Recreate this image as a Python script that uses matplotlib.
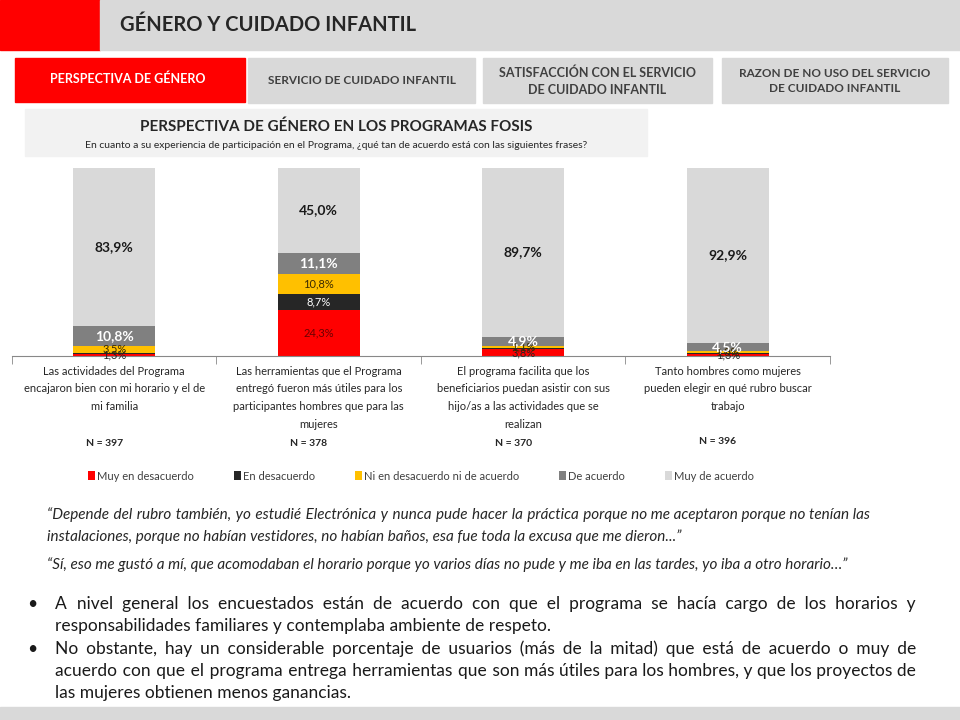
import matplotlib
matplotlib.use('Agg')
import matplotlib.pyplot as plt
from matplotlib.patches import Rectangle
import numpy as np

plt.rcParams['font.family'] = ['Lato', 'DejaVu Sans']

# Datos
categorias = [
    "Las actividades del Programa\nencajaron bien con mi horario y el de\nmi familia",
    "Las herramientas que el Programa\nentregó fueron más útiles para los\nparticipantes hombres que para las\nmujeres",
    "El programa facilita que los\nbeneficiarios puedan asistir con sus\nhijo/as a las actividades que se\nrealizan",
    "Tanto hombres como mujeres\npueden elegir en qué rubro buscar\ntrabajo",
]
n_muestra = ["N = 397", "N = 378", "N = 370", "N = 396"]
series = ["Muy en desacuerdo", "En desacuerdo", "Ni en desacuerdo ni de acuerdo",
          "De acuerdo", "Muy de acuerdo"]
muy_desacuerdo = [1.3, 24.3, 3.8, 1.3]
desacuerdo = [0.5, 8.7, 0.5, 0.3]
ni_ni = [3.5, 10.8, 1.1, 1.0]
de_acuerdo = [10.8, 11.1, 4.9, 4.5]
muy_acuerdo = [83.9, 45.0, 89.7, 92.9]
valores = [muy_desacuerdo, desacuerdo, ni_ni, de_acuerdo, muy_acuerdo]
colores = ['#FF0000', '#262626', '#FFC000', '#808080', '#D9D9D9']

fig = plt.figure(figsize=(9.6, 7.2), dpi=100)
bg = fig.add_axes([0, 0, 1, 1])
bg.set_xlim(0, 960)
bg.set_ylim(720, 0)
bg.axis('off')

# ===== Encabezado =====
bg.add_patch(Rectangle((0, 0), 100, 50, color='#FF0000'))
bg.add_patch(Rectangle((100, 0), 860, 50, color='#D9D9D9'))
bg.text(120, 25, "GÉNERO Y CUIDADO INFANTIL", fontsize=14.5, fontweight='bold',
        color='#262626', va='center', ha='left')

# Pestañas
bg.add_patch(Rectangle((15, 58), 230, 44, color='#FF0000'))
bg.text(128, 79, "PERSPECTIVA DE GÉNERO", fontsize=9, fontweight='bold',
        color='white', ha='center', va='center')
tabs = [(248, 475, "SERVICIO DE CUIDADO INFANTIL", 8.5),
        (483, 712, "SATISFACCIÓN CON EL SERVICIO\nDE CUIDADO INFANTIL", 9),
        (722, 948, "RAZON DE NO USO DEL SERVICIO\nDE CUIDADO INFANTIL", 8.5)]
for x0, x1, txt, fs in tabs:
    bg.add_patch(Rectangle((x0, 58), x1 - x0, 45, color='#D9D9D9'))
    bg.text((x0 + x1) / 2, 81, txt, fontsize=fs, fontweight='bold', color='#404040',
            ha='center', va='center', linespacing=1.5)

# Caja de título del gráfico
bg.add_patch(Rectangle((25, 109), 622, 47, color='#F2F2F2'))
bg.text(336, 127, "PERSPECTIVA DE GÉNERO EN LOS PROGRAMAS FOSIS", fontsize=11,
        fontweight='bold', color='#262626', ha='center', va='center')
bg.text(336, 146, "En cuanto a su experiencia de participación en el Programa, "
        "¿qué tan de acuerdo está con las siguientes frases?", fontsize=7.5,
        color='#262626', ha='center', va='center')

# ===== Gráfico de barras apiladas =====
ax = fig.add_axes([12 / 960, 1 - 356 / 720, 818 / 960, 188 / 720])
x = np.arange(len(categorias))
base = np.zeros(len(categorias))
barras = []
for nombre, vals, col in zip(series, valores, colores):
    b = ax.bar(x, vals, 0.4, bottom=base, color=col, label=nombre)
    barras.append(b)
    base = base + np.array(vals)

ax.set_xlim(-0.5, 3.5)
ax.set_ylim(0, 100)
for s in ['top', 'right', 'left']:
    ax.spines[s].set_visible(False)
ax.spines['bottom'].set_color('#888888')
ax.set_yticks([])
ax.set_xticks(x)
ax.set_xticklabels(categorias, fontsize=8, color='#262626', linespacing=1.75)
ax.tick_params(axis='x', which='major', length=0, pad=7)
ax.set_xticks(np.arange(-0.5, 4.0, 1.0), minor=True)
ax.tick_params(axis='x', which='minor', length=6, color='#888888', direction='out')

# Etiquetas de datos (se solapan en los segmentos pequeños, como en el original)
estilos = [
    dict(color='#262626', fontsize=8),
    dict(color='white', fontsize=8),
    dict(color='#3A2A00', fontsize=8),
    dict(color='white', fontsize=10, fontweight='bold'),
    dict(color='#1A1A1A', fontsize=10, fontweight='bold'),
]
base = np.zeros(len(categorias))
for vals, est in zip(valores, estilos):
    for i, v in enumerate(vals):
        if v >= 1.0:
            txt = f"{v:.1f}%".replace('.', ',')
            c = est['color']
            if est is estilos[0] and v > 10:
                c = '#6B0000'
            ax.text(i, base[i] + v / 2, txt, ha='center', va='center',
                    **{**est, 'color': c})
    base = base + np.array(vals)

for i, n in enumerate(n_muestra):
    bg.text(12 + 204.5 * (i + 0.5) - 10, 444 if i < 3 else 441, n, fontsize=7.5,
            fontweight='bold', color='#262626', ha='center', va='center')

ax.legend(handles=barras, loc='center', bbox_to_anchor=(421 / 960, 1 - 476 / 720),
          bbox_transform=fig.transFigure, ncol=5, frameon=False, fontsize=8,
          handlelength=0.6, handleheight=0.9, handletextpad=0.2, columnspacing=3.6,
          labelcolor='#404040')

# ===== Textos justificados =====
renderer = fig.canvas.get_renderer()
HAIR = '\u200a'


def ancho(txt, **kw):
    t = bg.text(0, 0, txt, **kw)
    w = t.get_window_extent(renderer).width
    t.remove()
    return w


def justificar(x0, x1, y, linea, **kw):
    # una sola línea de texto; se rellenan los espacios con espacios finos
    palabras = linea.split()
    huecos = len(palabras) - 1
    w_hair = (ancho('a' + HAIR * 20 + 'a', **kw) - ancho('aa', **kw)) / 20
    extra = x1 - x0 - ancho(linea, **kw)
    n = max(int(round(extra / w_hair)), 0)
    partes = [palabras[0]]
    for k, p in enumerate(palabras[1:]):
        cuantos = n // huecos + (1 if k < n % huecos else 0)
        partes.append(' ' + HAIR * cuantos + p)
    bg.text(x0, y, ''.join(partes), va='center', ha='left', **kw)


cita = dict(fontsize=11, style='italic', color='#262626')
justificar(47, 870, 515, "“Depende del rubro también, yo estudié Electrónica y nunca pude hacer "
           "la práctica porque no me aceptaron porque no tenían las", **cita)
bg.text(47, 537, "instalaciones, porque no habían vestidores, no habían baños, esa fue "
        "toda la excusa que me dieron...”", va='center', **cita)
bg.text(47, 565, "“Sí, eso me gustó a mí, que acomodaban el horario porque yo varios días "
        "no pude y me iba en las tardes, yo iba a otro horario…”", va='center', **cita)

viñeta = dict(fontsize=12.5, color='#1A1A1A')
bg.text(27, 604, "•", va='center', **viñeta)
justificar(55, 916, 604, "A nivel general los encuestados están de acuerdo con que el "
           "programa se hacía cargo de los horarios y", **viñeta)
bg.text(55, 626, "responsabilidades familiares y contemplaba ambiente de respeto.",
        va='center', **viñeta)
bg.text(27, 649, "•", va='center', **viñeta)
justificar(55, 916, 649, "No obstante, hay un considerable porcentaje de usuarios (más "
           "de la mitad) que está de acuerdo o muy de", **viñeta)
justificar(55, 916, 671, "acuerdo con que el programa entrega herramientas que son más "
           "útiles para los hombres, y que los proyectos de", **viñeta)
bg.text(55, 693, "las mujeres obtienen menos ganancias.", va='center', **viñeta)

# Barra inferior
bg.add_patch(Rectangle((0, 707), 960, 13, color='#D9D9D9'))

fig.savefig("out.png", dpi=100)
